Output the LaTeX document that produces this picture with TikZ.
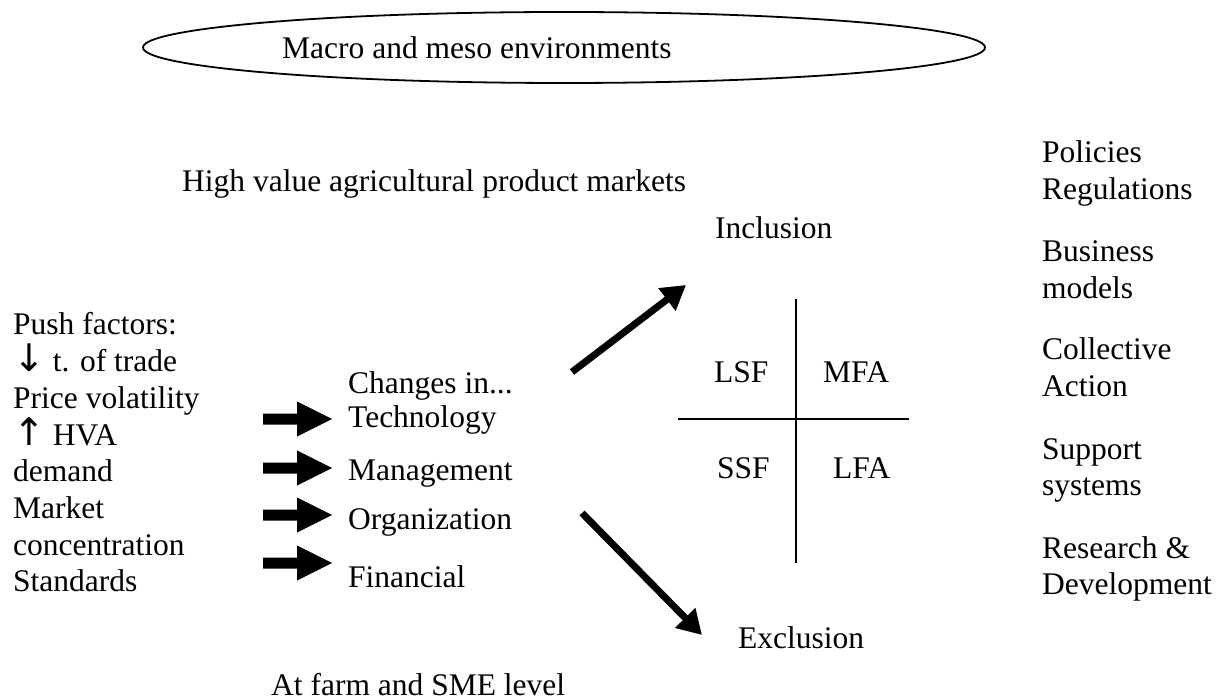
\documentclass[tikz,border=0pt]{standalone}
\usepackage{fontspec}
\setmainfont{Liberation Serif}
\newfontfamily\arrowfont{DejaVu Sans}
\newcommand{\dnarr}{\smash{\arrowfont\fontsize{38}{36.7}\selectfont ↓}}
\newcommand{\uparr}{\smash{\arrowfont\fontsize{38}{36.7}\selectfont ↑}}
\usetikzlibrary{arrows.meta}
\begin{document}
\begin{tikzpicture}[x=1pt,y=-1pt,
  txt/.style={font=\fontsize{31.5}{36.7}\selectfont, inner sep=0pt, anchor=base west},
  fat/.style={line width=7pt, -{Triangle[length=24pt,width=27pt]}},
  rule/.style={line width=1.6pt},
  blockarrow/.style={fill=black}]
\useasboundingbox (0,0) rectangle (1226,700);
% environment ellipse
\draw[line width=1.8pt] (564,47.5) ellipse [x radius=421pt, y radius=35.5pt];
\node[txt] (macro) at (282,59) {Macro and meso environments};
\node[txt] (hva) at (182,192) {High value agricultural product markets};
\node[txt] (farm) at (271,695) {At farm and SME level};
% push factors
\node[txt] (push) at (13,335) {\begin{tabular}[t]{@{}l@{}}Push factors:\\ \dnarr\ t. of trade\\ Price volatility\\ \uparr\ HVA\\ demand\\ Market\\ concentration\\ Standards\end{tabular}};
% block arrows
\foreach \yc in {419,468,515,563}{
  \fill[blockarrow] (263,\yc-5.5) -- (297,\yc-5.5) -- (297,\yc-17.5) -- (332,\yc) -- (297,\yc+17.5) -- (297,\yc+5.5) -- (263,\yc+5.5) -- cycle;
}
% changes
\node[txt] (changes) at (348,393) {Changes in...};
\node[txt] (tech) at (348,428) {Technology};
\node[txt] (mgmt) at (348,480) {Management};
\node[txt] (org) at (348,529) {Organization};
\node[txt] (fin) at (348,587) {Financial};
% inclusion / exclusion
\node[txt] (incl) at (715,239) {Inclusion};
\node[txt] (excl) at (738,648) {Exclusion};
\coordinate (upS) at (572,372);
\coordinate (upE) at (686,285);
\coordinate (dnS) at (582,513);
\coordinate (dnE) at (702,635);
\draw[fat] (upS) -- (upE);
\draw[fat] (dnS) -- (dnE);
% quadrant
\coordinate (vT) at (796,299);
\coordinate (vB) at (796,563);
\coordinate (hL) at (678,419);
\coordinate (hR) at (909,419);
\draw[rule] (vT) -- (vB);
\draw[rule] (hL) -- (hR);
\node[txt] (lsf) at (714,383) {LSF};
\node[txt] (mfa) at (823,383) {MFA};
\node[txt] (ssf) at (717,478) {SSF};
\node[txt] (lfa) at (833,478) {LFA};
% right column
\node[txt] (pol) at (1042,163) {\begin{tabular}[t]{@{}l@{}}Policies\\ Regulations\end{tabular}};
\node[txt] (bus) at (1042,262) {\begin{tabular}[t]{@{}l@{}}Business\\ models\end{tabular}};
\node[txt] (col) at (1042,360) {\begin{tabular}[t]{@{}l@{}}Collective\\ Action\end{tabular}};
\node[txt] (sup) at (1042,459) {\begin{tabular}[t]{@{}l@{}}Support\\ systems\end{tabular}};
\node[txt] (rnd) at (1042,558) {\begin{tabular}[t]{@{}l@{}}Research \&\\ Development\end{tabular}};
\end{tikzpicture}
\end{document}
